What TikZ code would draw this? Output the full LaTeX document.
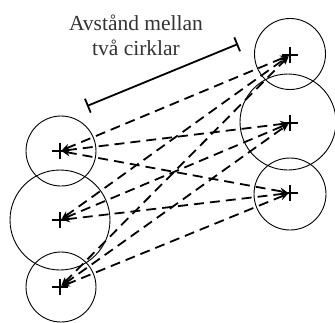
\documentclass[tikz,border=0pt]{standalone}
\usepackage{fontspec}
\setmainfont{Liberation Serif}
\usetikzlibrary{arrows.meta}
\begin{document}
\begin{tikzpicture}[x=1pt,y=-1pt,
  ring/.style={circle,draw,line width=0.9pt,inner sep=0pt},
  link/.style={line width=1.8pt,dash pattern=on 10pt off 6pt,{Stealth[length=8pt,width=7pt]}-{Stealth[length=8pt,width=7pt]},shorten <=2pt,shorten >=2pt},
  pluss/.style={line width=2.2pt},
  bar/.style={line width=1.8pt,{Bar[width=15pt]}-{Bar[width=15pt]}}]
\useasboundingbox (0,0) rectangle (335,322);
% circles
\node[ring,minimum size=70pt] (L1) at (61,151) {};
\node[ring,minimum size=100pt] (L2) at (60,220) {};
\node[ring,minimum size=70pt] (L3) at (61,287) {};
\node[ring,minimum size=71pt] (R1) at (290,54) {};
\node[ring,minimum size=96pt] (R2) at (288,122) {};
\node[ring,minimum size=72pt] (R3) at (290,194) {};
% centers
\coordinate (a1) at (60,151);
\coordinate (a2) at (60,220);
\coordinate (a3) at (60,287);
\coordinate (b1) at (290,55);
\coordinate (b2) at (290,123);
\coordinate (b3) at (290,193);
% links
\foreach \i in {1,2,3}{
  \foreach \j in {1,2,3}{
    \draw[link] (a\i) -- (b\j);
  }
}
% plus marks
\foreach \p in {a1,a2,a3,b1,b2,b3}{
  \draw[pluss] ([xshift=-8pt]\p) -- ([xshift=8pt]\p);
  \draw[pluss] ([yshift=-8pt]\p) -- ([yshift=8pt]\p);
}
% distance bar
\coordinate (d1) at (87,106);
\coordinate (d2) at (238,44);
\draw[bar] (d1) -- (d2);
\node[align=center,font=\fontsize{21.5}{25}\selectfont,text=black!80] (lbl) at (136,35) {Avstånd mellan\\två cirklar};
\end{tikzpicture}
\end{document}
